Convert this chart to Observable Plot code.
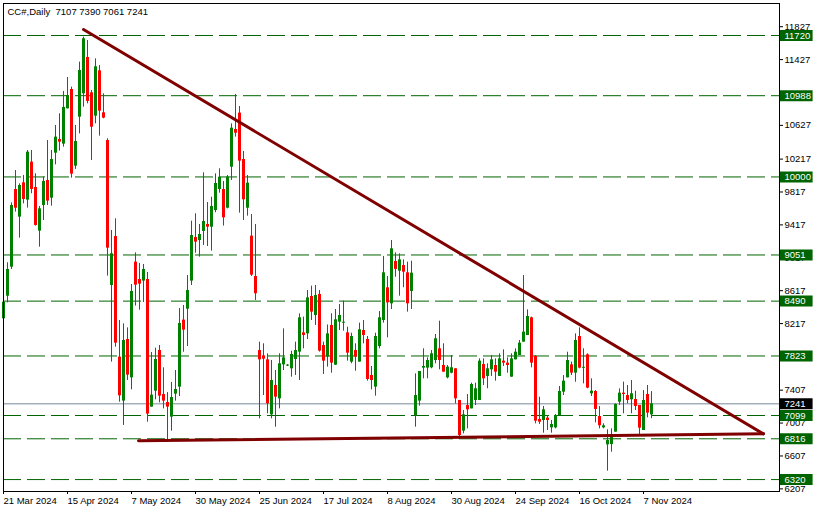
<!DOCTYPE html>
<html>
<head>
<meta charset="utf-8">
<script src="https://cdn.jsdelivr.net/npm/d3@7"></script>
<script src="https://cdn.jsdelivr.net/npm/@observablehq/plot@0.6"></script>
<style>
  html, body { margin: 0; padding: 0; background: #ffffff; }
  svg { display: block; }
</style>
</head>
<body>
<div id="chart"></div>
<script>
// ---- Data ----
const symbol = "CC#";
const timeframe = "Daily";

const opens = [8275,8550,8903,9847,9511,9929,9718,10180,9872,9341,9653,9957,9742,10289,10455,10399,10828,11063,10131,10727,
11011,11453,11023,10739,11290,10780,10443,8680,9276,7809,7274,8023,7557,8964,8753,8733,8753,7201,7395,7890,
7355,7257,7079,7359,7444,8259,8392,8733,9264,9227,9337,9422,9389,9592,9847,9847,9620,10119,10577,10776,
10212,9620,9280,8790,7890,7825,7776,7107,7464,7302,7715,7700,7667,7780,7870,8104,8092,8546,8315,8571,
7950,7809,8194,7711,8234,8222,8104,7748,7890,7748,8133,8023,7586,7444,7938,8254,8652,8457,8972,8854,
8923,8834,8607,7099,7274,7675,7675,7679,7768,7910,7707,7557,7614,7667,7282,6909,7220,7180,7282,7282,
7719,7574,7655,7707,7574,7760,7736,7565,7776,7829,7991,8072,8287,7817,7051,7038,7067,6949,6949,7099,
7383,7557,7715,7614,8060,7673,7837,7363,7391,7087,6949,6742,6746,6897,7261,7371,7342,7290,7294,7221,
6917,7355,7107];
const highs = [8640,8956,9685,10078,9916,10018,10322,10322,10038,9641,9997,10443,10322,10626,10768,11039,11209,11092,10626,11396,
11700,11659,11051,11436,11355,11011,10464,9349,9491,8254,8214,8165,8692,9077,8948,8935,8838,7865,7918,7950,
7679,7378,7501,7646,8400,8437,8802,9462,9552,9422,10050,9689,9754,10038,10099,9945,10018,10646,11003,10857,
10310,10018,9543,9422,7991,7971,7849,7768,7646,7849,8153,7719,7881,7991,8335,8295,8619,8672,8680,8619,
7991,8200,8336,8388,8449,8490,8173,8100,7971,8222,8254,8060,7695,8100,8364,9033,8789,9227,9077,9065,
8992,8964,8976,7606,7634,7910,7800,7889,8084,8246,7971,7707,7829,7667,7282,7160,7355,7492,7492,7788,
7788,7728,7829,7788,7849,7898,7800,7849,7910,8011,8802,8384,8295,7829,7322,7209,7099,7038,7111,7452,
7585,7869,7748,8092,8165,7910,7849,7545,7403,7209,6998,6925,6937,7241,7423,7505,7464,7525,7395,7221,
7403,7464,7390];
const lows = [8153,8469,8875,9572,9256,9673,9621,9795,9402,9146,9470,9653,9645,10147,10314,10362,10828,9985,10091,10524,
10849,10889,10200,10646,10496,10707,8794,7748,7930,7261,6978,7525,7411,8429,8380,8473,7018,7201,7290,7253,
7180,6775,6909,7274,7330,7869,7938,8680,9073,9025,9167,9154,9098,9564,9803,9402,9612,9957,10484,9560,
9470,9523,8790,8498,7059,7342,7120,7059,6957,7180,7646,7695,7565,7586,7525,7910,8023,8254,8194,7870,
7598,7687,7614,7707,8133,8125,7760,7728,7638,7748,7971,7517,7411,7334,7910,8222,8044,8388,8781,8550,
8652,8356,8388,6957,7213,7545,7545,7667,7728,7655,7626,7545,7606,7241,6836,6876,6937,7180,7220,7282,
7464,7424,7574,7517,7574,7695,7614,7565,7776,7829,7991,8072,7679,6998,6990,6884,6917,6884,6937,7099,
7342,7557,7585,7504,7667,7484,7424,7330,7010,6937,6937,6422,6653,6897,7221,7120,7241,7120,7160,6856,
6917,7071,7061];
const closes = [8477,8875,9653,9620,9896,9726,10301,9847,9410,9612,9945,9706,10212,10484,10423,10845,10990,10034,10431,11294,
11680,10918,10605,11339,10800,10715,9134,9065,7979,7338,8011,7590,8607,8684,8696,8875,7116,7347,7780,7334,
7274,7201,7318,7415,8218,8137,8619,9288,9207,9300,9458,9389,9641,9920,9997,9503,9997,10593,10532,10192,
9722,9924,8806,8580,7776,7784,7241,7524,7322,7728,7800,7712,7841,7890,8287,8072,8530,8356,8558,7882,
7760,8092,7736,8263,8315,8234,7857,8060,7809,8141,8072,7537,7525,8060,8287,8834,8469,9126,8875,8992,
8842,8457,8830,7342,7634,7695,7768,7849,8032,7768,7626,7687,7679,7302,6856,7107,7168,7476,7424,7760,
7545,7667,7776,7626,7788,7736,7707,7788,7869,7979,8113,8303,7736,7030,7018,7168,7038,6990,7099,7391,
7517,7768,7614,8011,7675,7685,7432,7395,7172,6974,6974,6795,6864,7233,7371,7355,7282,7363,7209,6945,
7282,7128,7241];

// x-axis tick labels at bar positions
const dateTickBars = [0,16,32,48,64,80,96,112,128,144,160];
const dateTickLabels = ["21 Mar 2024","15 Apr 2024","7 May 2024","30 May 2024","25 Jun 2024","17 Jul 2024",
  "8 Aug 2024","30 Aug 2024","24 Sep 2024","16 Oct 2024","7 Nov 2024"];

// right price scale ticks (those fully hidden behind level boxes are omitted)
const priceTicks = [11827,11427,10627,10217,9817,9417,9017,8617,8217,7407,7007,6607,6207];

// horizontal levels (dashed) and current bid
const levels = [11720,10988,10000,9051,8490,7823,7099,6816,6320];
const currentPrice = 7241;

// trendlines: [barIndex, price]
const resistanceLine = [[20,11793],[190,6876]];
const supportLine = [[33.75,6791],[190,6876]];

// ---- Build table ----
const bars = opens.map((o, i) => ({i, open: o, high: highs[i], low: lows[i], close: closes[i]}));
const up = bars.filter(d => d.close >= d.open);
const down = bars.filter(d => d.close < d.open);

const upColor = "#008000";
const downColor = "#ff0000";
const levelColor = "#006400";
const xMax = 194;
const boxX1 = 194.25, boxX2 = 202.4;

const header = `${symbol},${timeframe}\u00a0\u00a0${opens[opens.length-1]} ${highs[highs.length-1]} ${lows[lows.length-1]} ${closes[closes.length-1]}`;

const chart = Plot.plot({
  width: 818,
  height: 512,
  marginLeft: 3,
  marginRight: 39,
  marginTop: 3,
  marginBottom: 21,
  style: {fontFamily: "'Liberation Sans', Arial, sans-serif", fontSize: "9.5px", background: "#ffffff", color: "#000000", overflow: "visible"},
  x: {domain: [0, xMax], axis: null},
  y: {domain: [6175, 12109], axis: null},
  marks: [
    Plot.ruleY(levels, {y: d => d, stroke: levelColor, strokeWidth: 1, strokeDasharray: "18,6"}),
    Plot.ruleY([currentPrice], {y: d => d, stroke: "#778899", strokeWidth: 1}),
    Plot.ruleX(up, {x: "i", y1: "low", y2: "high", stroke: upColor, strokeWidth: 1}),
    Plot.ruleX(down, {x: "i", y1: "low", y2: "high", stroke: downColor, strokeWidth: 1}),
    Plot.ruleX(up, {x: "i", y1: "open", y2: "close", stroke: upColor, strokeWidth: 3}),
    Plot.ruleX(down, {x: "i", y1: "open", y2: "close", stroke: downColor, strokeWidth: 3}),
    Plot.line(resistanceLine, {x: d => d[0], y: d => d[1], stroke: "#800000", strokeWidth: 3}),
    Plot.line(supportLine, {x: d => d[0], y: d => d[1], stroke: "#800000", strokeWidth: 3}),
    Plot.frame({stroke: "#000000", strokeWidth: 1}),
    Plot.axisX({
      anchor: "bottom",
      ticks: dateTickBars,
      tickFormat: d => dateTickLabels[dateTickBars.indexOf(d)],
      tickSize: 3,
      tickPadding: 3,
      textAnchor: "start",
      label: null
    }),
    Plot.axisY({
      anchor: "right",
      ticks: priceTicks,
      tickFormat: d => String(d),
      tickSize: 3,
      tickPadding: 2,
      label: null
    }),
    Plot.ruleY(levels, {y: d => d, x1: boxX1, x2: boxX2, stroke: levelColor, strokeWidth: 11}),
    Plot.text(levels, {y: d => d, x: boxX1, text: d => String(d), fill: "#ffffff", textAnchor: "start", dx: 4}),
    Plot.ruleY([currentPrice], {y: d => d, x1: boxX1, x2: boxX2, stroke: "#000000", strokeWidth: 11}),
    Plot.text([currentPrice], {y: d => d, x: boxX1, text: d => String(d), fill: "#ffffff", textAnchor: "start", dx: 4}),
    Plot.text([header], {frameAnchor: "top-left", text: d => d, dx: 4, dy: 8, textAnchor: "start", lineAnchor: "middle", fill: "#000000"})
  ]
});

document.getElementById("chart").appendChild(chart);
</script>
</body>
</html>
